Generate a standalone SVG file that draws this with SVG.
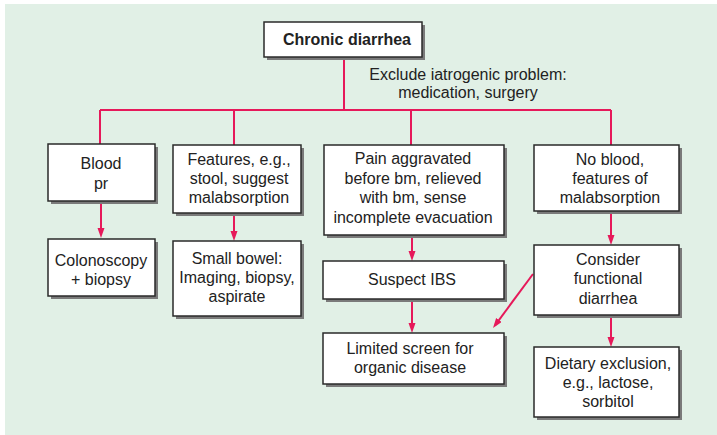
<svg xmlns="http://www.w3.org/2000/svg" width="717" height="435" viewBox="0 0 717 435">
<defs>
<style>
.bg{fill:#e1f0e6}
.sh{fill:#7a7a7a}
.bx{fill:#fff;stroke:#2a2a2a;stroke-width:1.5}
text{font-family:"Liberation Sans",Arial,sans-serif;font-size:16px;fill:#222;text-anchor:middle}
.b{font-weight:bold}
.c{fill:none;stroke:#e6195a;stroke-width:2}
</style>
<marker id="ah" markerUnits="userSpaceOnUse" markerWidth="11" markerHeight="8" refX="6" refY="3.5" orient="auto">
<path d="M0,0 L10,3.5 L0,7 z" fill="#e6195a"/>
</marker>
</defs>
<rect class="bg" x="5" y="4" width="712" height="431"/>
<g id="connectors">
<path class="c" d="M344 57 V110 M100 110 H611 M100 110 V144 M234 110 V145 M411 110 V145 M611 110 V145"/>
<path class="c" marker-end="url(#ah)" d="M101 201 V234"/>
<path class="c" marker-end="url(#ah)" d="M234 213 V237"/>
<path class="c" marker-end="url(#ah)" d="M412 235 V257"/>
<path class="c" marker-end="url(#ah)" d="M611 211 V241"/>
<path class="c" marker-end="url(#ah)" d="M412 299 V329"/>
<path class="c" marker-end="url(#ah)" d="M611 315 V343"/>
<path class="c" marker-end="url(#ah)" d="M533 274 L495.4 324.8"/>
<text x="468" y="80">Exclude iatrogenic problem:</text>
<text x="468" y="98">medication, surgery</text>
</g>
<g id="n-chronic">
<rect class="sh" x="267" y="25" width="158" height="35"/>
<rect class="bx" x="264" y="22" width="158" height="35"/>
<text class="b" x="347" y="45">Chronic diarrhea</text>
</g>
<g id="n-blood">
<rect class="sh" x="51" y="147" width="107" height="57"/>
<rect class="bx" x="48" y="144" width="107" height="57"/>
<text x="101" y="169">Blood</text>
<text x="101" y="189">pr</text>
</g>
<g id="n-features">
<rect class="sh" x="176" y="148" width="128" height="68"/>
<rect class="bx" x="173" y="145" width="128" height="68"/>
<text x="239" y="165">Features, e.g.,</text>
<text x="239" y="184">stool, suggest</text>
<text x="239" y="203">malabsorption</text>
</g>
<g id="n-pain">
<rect class="sh" x="327" y="148" width="180" height="90"/>
<rect class="bx" x="324" y="145" width="180" height="90"/>
<text x="413" y="164">Pain aggravated</text>
<text x="413" y="183.5">before bm, relieved</text>
<text x="413" y="203">with bm, sense</text>
<text x="413" y="222.5">incomplete evacuation</text>
</g>
<g id="n-noblood">
<rect class="sh" x="537" y="148" width="145" height="66"/>
<rect class="bx" x="534" y="145" width="145" height="66"/>
<text x="610" y="165">No blood,</text>
<text x="610" y="184">features of</text>
<text x="610" y="203">malabsorption</text>
</g>
<g id="n-colonoscopy">
<rect class="sh" x="51" y="242" width="107" height="57"/>
<rect class="bx" x="48" y="239" width="107" height="57"/>
<text x="101" y="266">Colonoscopy</text>
<text x="101" y="285">+ biopsy</text>
</g>
<g id="n-smallbowel">
<rect class="sh" x="176" y="244" width="128" height="75"/>
<rect class="bx" x="173" y="241" width="128" height="75"/>
<text x="237" y="264">Small bowel:</text>
<text x="237" y="283">Imaging, biopsy,</text>
<text x="237" y="302">aspirate</text>
</g>
<g id="n-ibs">
<rect class="sh" x="326" y="264" width="181" height="38"/>
<rect class="bx" x="323" y="261" width="181" height="38"/>
<text x="412" y="285">Suspect IBS</text>
</g>
<g id="n-consider">
<rect class="sh" x="537" y="248" width="145" height="70"/>
<rect class="bx" x="534" y="245" width="145" height="70"/>
<text x="608" y="265">Consider</text>
<text x="608" y="284">functional</text>
<text x="608" y="304">diarrhea</text>
</g>
<g id="n-limited">
<rect class="sh" x="326" y="336" width="181" height="51"/>
<rect class="bx" x="323" y="333" width="181" height="51"/>
<text x="410" y="354">Limited screen for</text>
<text x="410" y="373">organic disease</text>
</g>
<g id="n-dietary">
<rect class="sh" x="537" y="350" width="145" height="70"/>
<rect class="bx" x="534" y="347" width="145" height="70"/>
<text x="608" y="369">Dietary exclusion,</text>
<text x="608" y="388">e.g., lactose,</text>
<text x="608" y="407">sorbitol</text>
</g>
</svg>
